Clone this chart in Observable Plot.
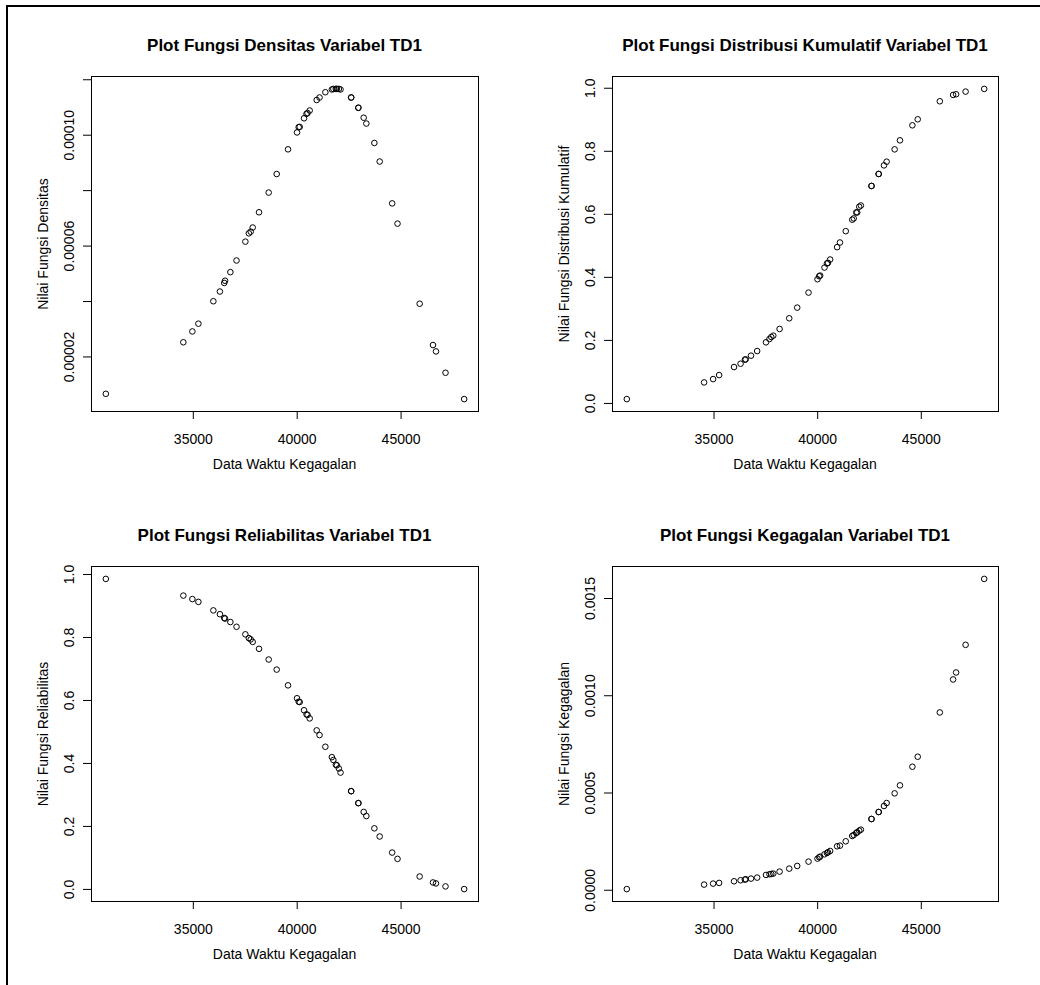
<!DOCTYPE html>
<html>
<head>
<meta charset="utf-8">
<script src="https://cdn.jsdelivr.net/npm/d3@7"></script>
<script src="https://cdn.jsdelivr.net/npm/@observablehq/plot@0.6"></script>
<style>
  html, body { margin: 0; padding: 0; background: #fff; overflow: hidden; }
  #root { position: relative; width: 1040px; height: 985px; background: #fff; font-family: "Liberation Sans", Arial, Helvetica, sans-serif; color: #000; }
  .frameline { position: absolute; left: 6px; top: 5px; width: 1100px; height: 1100px; border-left: 2px solid #000; border-top: 2px solid #000; }
  .panel { position: absolute; }
  .txt { position: absolute; white-space: nowrap; line-height: 1; transform: translate(-50%, -50%); }
  .title { font-weight: bold; font-size: 17px; }
  .axt { font-size: 14px; }
  .rot { transform: translate(-50%, -50%) rotate(-90deg); }
</style>
</head>
<body>
<div id="root"><div class="frameline"></div></div>
<script>
// ---- data (49 failure times, sorted) ----
const waktu = [30790, 34520, 34955, 35245, 35965, 36280, 36488, 36528, 36784, 37080,
  37506, 37674, 37762, 37858, 38163, 38628, 39013, 39559, 39992, 40072,
  40120, 40329, 40449, 40497, 40601, 40938, 41075, 41355, 41668, 41740,
  41860, 41908, 42005, 42085, 42598, 42598, 42944, 42944, 43200, 43328,
  43714, 43970, 44571, 44828, 45894, 46536, 46680, 47138, 48036];

const densitas = [0.0000067, 0.0000253, 0.0000292, 0.0000320, 0.0000401, 0.0000436, 0.0000467, 0.0000475, 0.0000506, 0.0000548,
  0.0000616, 0.0000646, 0.0000652, 0.0000667, 0.0000722, 0.0000793, 0.0000860, 0.0000949, 0.0001010, 0.0001029,
  0.0001030, 0.0001061, 0.0001077, 0.0001080, 0.0001089, 0.0001127, 0.0001136, 0.0001155, 0.0001165, 0.0001167,
  0.0001167, 0.0001167, 0.0001167, 0.0001165, 0.0001136, 0.0001136, 0.0001099, 0.0001099, 0.0001063, 0.0001042,
  0.0000972, 0.0000905, 0.0000754, 0.0000681, 0.0000392, 0.0000243, 0.0000220, 0.0000143, 0.0000048];

const kumulatif = [0.0138, 0.0667, 0.0773, 0.0900, 0.1155, 0.1260, 0.1388, 0.1398, 0.1515, 0.1663,
  0.1939, 0.2045, 0.2108, 0.2151, 0.2363, 0.2701, 0.3040, 0.3517, 0.3941, 0.4036,
  0.4057, 0.4311, 0.4440, 0.4460, 0.4566, 0.4958, 0.5106, 0.5466, 0.5830, 0.5870,
  0.6060, 0.6060, 0.6240, 0.6280, 0.6900, 0.6900, 0.7280, 0.7280, 0.7553, 0.7670,
  0.8061, 0.8347, 0.8824, 0.9015, 0.9587, 0.9788, 0.9809, 0.9894, 0.9979];

const reliabilitas = [0.986, 0.933, 0.922, 0.913, 0.886, 0.874, 0.862, 0.860, 0.849, 0.834,
  0.810, 0.798, 0.794, 0.786, 0.764, 0.730, 0.698, 0.648, 0.607, 0.596,
  0.595, 0.569, 0.556, 0.554, 0.543, 0.505, 0.490, 0.453, 0.420, 0.411,
  0.396, 0.394, 0.384, 0.371, 0.312, 0.312, 0.274, 0.274, 0.246, 0.233,
  0.194, 0.168, 0.117, 0.097, 0.041, 0.022, 0.019, 0.0095, 0.001];

const kegagalan = [0.0000060, 0.0000291, 0.0000342, 0.0000377, 0.0000462, 0.0000514, 0.0000548, 0.0000565, 0.0000599, 0.0000651,
  0.0000788, 0.0000822, 0.0000839, 0.0000856, 0.0000959, 0.0001113, 0.0001250, 0.0001472, 0.0001626, 0.0001695,
  0.0001729, 0.0001849, 0.0001917, 0.0001952, 0.0002020, 0.0002260, 0.0002294, 0.0002517, 0.0002791, 0.0002842,
  0.0002945, 0.0002979, 0.0003064, 0.0003116, 0.0003664, 0.0003664, 0.0004023, 0.0004023, 0.0004331, 0.0004485,
  0.0004982, 0.0005393, 0.0006352, 0.0006865, 0.0009142, 0.0010837, 0.0011196, 0.0012617, 0.0016007];

// ---- tick values and labels ----
const xTicks = [35000, 40000, 45000];
const xTickLabels = ["35000", "40000", "45000"];

const densTicks = [0.00002, 0.00004, 0.00006, 0.00008, 0.00010, 0.00012];
const densTickLabels = ["0.00002", "", "0.00006", "", "0.00010", ""];
const probTicks = [0, 0.2, 0.4, 0.6, 0.8, 1.0];
const probTickLabels = ["0.0", "0.2", "0.4", "0.6", "0.8", "1.0"];
const hazTicks = [0, 0.0005, 0.0010, 0.0015];
const hazTickLabels = ["0.0000", "0.0005", "0.0010", "0.0015"];

// ---- texts ----
const titles = [
  "Plot Fungsi Densitas Variabel TD1",
  "Plot Fungsi Distribusi Kumulatif Variabel TD1",
  "Plot Fungsi Reliabilitas Variabel TD1",
  "Plot Fungsi Kegagalan Variabel TD1"
];
const yLabels = [
  "Nilai Fungsi Densitas",
  "Nilai Fungsi Distribusi Kumulatif",
  "Nilai Fungsi Reliabilitas",
  "Nilai Fungsi Kegagalan"
];
const xLabel = "Data Waktu Kegagalan";

const series = [densitas, kumulatif, reliabilitas, kegagalan];
const yTickSets = [[densTicks, densTickLabels], [probTicks, probTickLabels], [probTicks, probTickLabels], [hazTicks, hazTickLabels]];

// ---- layout ----
const origins = [[0, 0], [520, 0], [0, 490], [520, 490]];
const root = document.getElementById("root");

function rExtent(v) {
  const [a, b] = d3.extent(v);
  const p = (b - a) * 0.04;
  return [a - p, b + p];
}

function addText(cls, text, x, y) {
  const d = document.createElement("div");
  d.className = "txt " + cls;
  d.textContent = text;
  d.style.left = x + "px";
  d.style.top = y + "px";
  root.appendChild(d);
}

series.forEach((ys, k) => {
  const [ox, oy] = origins[k];
  const mL = k % 2 === 0 ? 91 : 92;
  const mR = 42;
  const W = 520, H = 492, mT = 76, mB = 81;
  const data = waktu.map((w, i) => ({w, v: ys[i]}));
  const [yt, yl] = yTickSets[k];
  const ylMap = new Map(yt.map((t, i) => [t, yl[i]]));
  const xlMap = new Map(xTicks.map((t, i) => [t, xTickLabels[i]]));

  const chart = Plot.plot({
    width: W, height: H,
    marginLeft: mL, marginRight: mR, marginTop: mT, marginBottom: mB,
    x: {domain: rExtent(waktu)},
    y: {domain: rExtent(ys)},
    style: {fontFamily: '"Liberation Sans", Arial, sans-serif', fontSize: "14px", color: "#000", background: "transparent", overflow: "visible"},
    marks: [
      Plot.axisX({ticks: xTicks, tickSize: 8, tickPadding: 15, tickFormat: d => xlMap.get(d) ?? "", label: null, stroke: "#000", fill: "#000", fontSize: 14}),
      Plot.axisY({ticks: yt, tickSize: 8, tickPadding: 10, tickRotate: -90, tickFormat: d => ylMap.get(d) ?? "", label: null, stroke: "#000", fill: "#000", fontSize: 14}),
      Plot.frame({stroke: "#000", strokeWidth: 1}),
      Plot.dot(data, {x: "w", y: "v", r: 2.8, stroke: "#000", strokeWidth: 1, fill: "none"})
    ]
  });
  const holder = document.createElement("div");
  holder.className = "panel";
  holder.style.left = ox + "px";
  holder.style.top = oy + "px";
  holder.appendChild(chart);
  root.appendChild(holder);

  const cx = ox + mL + (W - mL - mR) / 2;
  const cy = oy + mT + (H - mT - mB) / 2;
  addText("title", titles[k], cx, oy + 45);
  addText("axt", xLabel, cx, oy + 463.5);
  addText("axt rot", yLabels[k], ox + mL - 48, cy);
});
</script>
</body>
</html>
